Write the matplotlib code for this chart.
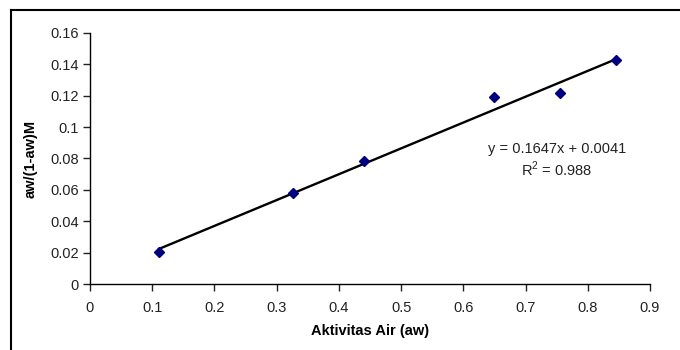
import matplotlib.pyplot as plt
import numpy as np
from matplotlib.lines import Line2D

aw = [0.111, 0.327, 0.440, 0.650, 0.756, 0.845]
y_val = [0.0205, 0.0578, 0.0784, 0.1194, 0.1216, 0.1428]
slope = 0.1647
intercept = 0.0041
eq_text = "y = 0.1647x + 0.0041"
r2_text = "R$^2$ = 0.988"

plt.rcParams['font.family'] = ['Liberation Sans', 'DejaVu Sans']
plt.rcParams['mathtext.fontset'] = 'custom'
plt.rcParams['mathtext.rm'] = 'Liberation Sans'

fs = 10.5
fig = plt.figure(figsize=(6.8, 3.5), dpi=100)
ax = fig.add_axes([90 / 680, 1 - 284 / 350, 560 / 680, 251 / 350])

# trendline over the data range
xs = np.array([min(aw), max(aw)])
ax.plot(xs, slope * xs + intercept, color='black', lw=1.7, zorder=2)
ax.plot(aw, y_val, linestyle='none', marker='D', ms=4.6, color='#000080', zorder=3)

ax.set_xlim(0, 0.9)
ax.set_ylim(0, 0.16)
ax.set_xticks(np.arange(0, 0.91, 0.1))
ax.set_yticks(np.arange(0, 0.161, 0.02))
ax.set_xticklabels(['0', '0.1', '0.2', '0.3', '0.4', '0.5', '0.6', '0.7', '0.8', '0.9'])
ax.set_yticklabels(['0', '0.02', '0.04', '0.06', '0.08', '0.1', '0.12', '0.14', '0.16'])
ax.tick_params(labelsize=fs, length=5, width=1, direction='out', color='#222222',
               labelcolor='#222222')
ax.tick_params(axis='x', pad=7)
ax.tick_params(axis='y', pad=3)
for s in ['top', 'right']:
    ax.spines[s].set_visible(False)
for s in ['left', 'bottom']:
    ax.spines[s].set_linewidth(1)

ax.set_xlabel('Aktivitas Air (aw)', fontsize=fs, fontweight='bold', labelpad=7)
ax.set_ylabel('aw/(1-aw)M', fontsize=fs, fontweight='bold', labelpad=9)

fig.text(557 / 680, 1 - 149 / 350, eq_text, fontsize=fs, ha='center', va='center',
         color='#222222')
fig.text(557 / 680, 1 - 169 / 350, r2_text, fontsize=fs, ha='center', va='center',
         color='#222222')

# chart area border (only top and left visible in the crop)
fig.add_artist(Line2D([11 / 680, 11 / 680], [0, 1 - 10 / 350], color='black', lw=1.5,
                      transform=fig.transFigure))
fig.add_artist(Line2D([11 / 680, 1], [1 - 10 / 350, 1 - 10 / 350], color='black', lw=1.5,
                      transform=fig.transFigure))

fig.savefig('out.png', dpi=100)
